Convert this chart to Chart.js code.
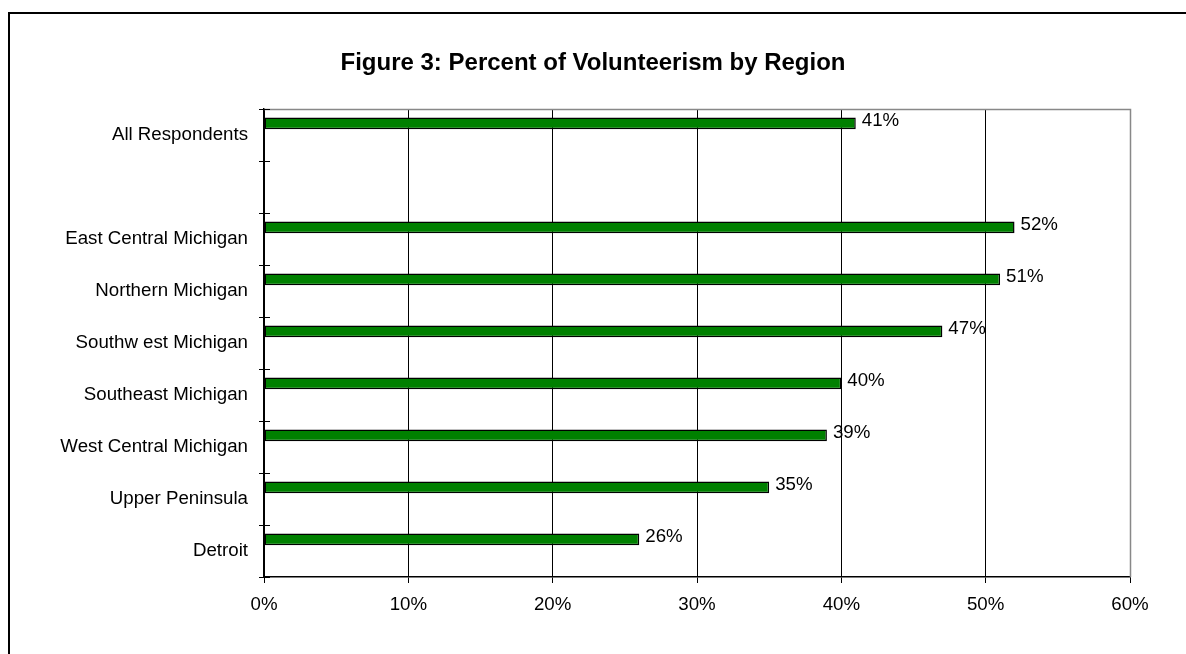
<!DOCTYPE html>
<html>
<head>
<meta charset="utf-8">
<script src="https://cdn.jsdelivr.net/npm/chart.js@4/dist/chart.umd.min.js"></script>
<style>
  html, body { margin: 0; padding: 0; background: #fff; }
  canvas { display: block; }
</style>
</head>
<body>
<canvas id="chart" width="1186" height="654"></canvas>
<script>
// data
const regions = ['All Respondents', '', 'East Central Michigan', 'Northern Michigan', 'Southw est Michigan',
    'Southeast Michigan', 'West Central Michigan', 'Upper Peninsula', 'Detroit'];
const volunteerPct = [41, null, 52, 51, 47, 40, 39, 35, 26];
const emptySeries = [null, null, null, null, null, null, null, null, null];
const axisMin = 0;
const axisMax = 60;
const axisStep = 10;

const FONT = "'Liberation Sans', Arial, sans-serif";
const LABEL_SIZE = 18.7;

// outer frame of the figure (only left and top edges show in the picture)
const framePlugin = {
    id: 'frame',
    beforeDraw(chart) {
        const c = chart.ctx;
        c.save();
        c.fillStyle = '#fff';
        c.fillRect(0, 0, chart.width, chart.height);
        c.fillStyle = '#000';
        c.fillRect(8, 12, chart.width - 8, 2);
        c.fillRect(8, 12, 2, chart.height - 12);
        c.restore();
    }
};

// gray plot border on top and right, plus the inner half of the category ticks
const plotBorderPlugin = {
    id: 'plotBorder',
    beforeDatasetsDraw(chart) {
        const a = chart.chartArea;
        const c = chart.ctx;
        c.save();
        c.strokeStyle = '#888';
        c.lineWidth = 1.5;
        c.beginPath();
        c.moveTo(a.left, a.top + 0.5);
        c.lineTo(a.right + 0.5, a.top + 0.5);
        c.lineTo(a.right + 0.5, a.bottom);
        c.stroke();
        const step = (a.bottom - a.top) / regions.length;
        c.strokeStyle = '#000';
        c.lineWidth = 1;
        c.beginPath();
        for (let i = 0; i <= regions.length; i++) {
            const py = Math.round(a.top + i * step) + 0.5;
            c.moveTo(a.left, py);
            c.lineTo(a.left + 6, py);
        }
        c.stroke();
        c.restore();
    }
};

// value labels at the end of each bar
const valueLabelPlugin = {
    id: 'valueLabels',
    afterDatasetsDraw(chart) {
        const c = chart.ctx;
        const meta = chart.getDatasetMeta(0);
        c.save();
        c.font = LABEL_SIZE + 'px ' + FONT;
        c.fillStyle = '#000';
        c.textAlign = 'left';
        c.textBaseline = 'middle';
        meta.data.forEach((bar, i) => {
            const v = volunteerPct[i];
            if (v === null) return;
            c.fillText(v + '%', bar.x + 6, bar.y - 2);
        });
        c.restore();
    }
};

new Chart(document.getElementById('chart'), {
    type: 'bar',
    data: {
        labels: regions,
        datasets: [
            {
                data: volunteerPct,
                backgroundColor: '#008000',
                borderColor: '#000',
                borderWidth: 1.5,
                borderSkipped: false
            },
            { data: emptySeries },
            { data: emptySeries }
        ]
    },
    options: {
        indexAxis: 'y',
        responsive: false,
        animation: false,
        categoryPercentage: 0.675,
        barPercentage: 1,
        layout: {
            padding: 0
        },
        scales: {
            x: {
                type: 'linear',
                min: axisMin,
                max: axisMax,
                ticks: {
                    stepSize: axisStep,
                    padding: 11,
                    color: '#000',
                    font: { family: FONT, size: LABEL_SIZE },
                    callback: v => v + '%'
                },
                grid: {
                    color: ctx => (ctx.tick && ctx.tick.value === axisMax) ? '#888' : '#000',
                    tickColor: '#000',
                    tickLength: 6,
                    lineWidth: 1
                },
                border: { color: '#000', width: 1.5 },
                afterFit(scale) { scale.height = 77; }
            },
            y: {
                type: 'category',
                ticks: {
                    padding: 11,
                    color: '#000',
                    font: { family: FONT, size: LABEL_SIZE }
                },
                grid: {
                    drawOnChartArea: false,
                    color: '#000',
                    tickLength: 5
                },
                border: { color: '#000', width: 1.5 },
                afterFit(scale) { scale.width = 264; }
            },
            // blank right-hand margin so the title centres on the whole figure
            yRight: {
                type: 'linear',
                position: 'right',
                display: true,
                ticks: { display: false },
                grid: { display: false },
                border: { display: false },
                afterFit(scale) { scale.width = 56; }
            }
        },
        plugins: {
            legend: { display: false },
            tooltip: { enabled: false },
            title: {
                display: true,
                text: 'Figure 3: Percent of Volunteerism by Region',
                color: '#000',
                font: { family: FONT, size: 24, weight: 'bold' },
                padding: { top: 49, bottom: 31.2 }
            }
        }
    },
    plugins: [framePlugin, plotBorderPlugin, valueLabelPlugin]
});
</script>
</body>
</html>
